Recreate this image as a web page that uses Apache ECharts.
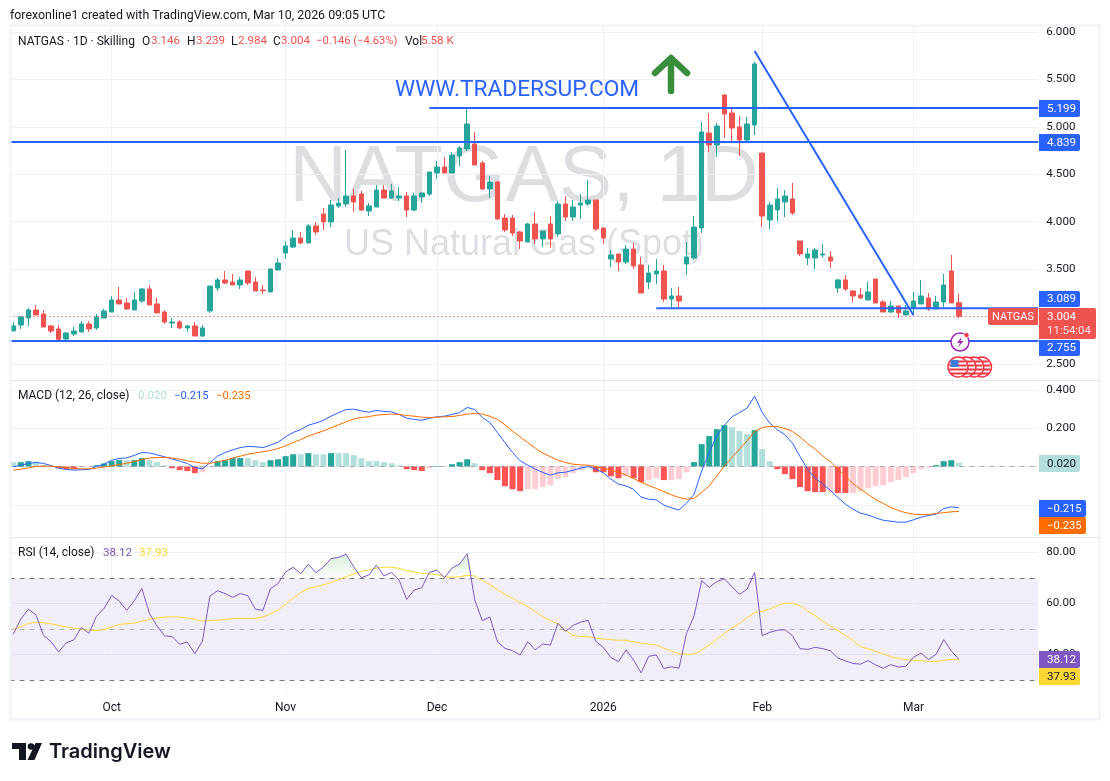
<!DOCTYPE html>
<html><head><meta charset="utf-8">
<style>html,body{margin:0;padding:0;background:#fff}#c{width:1110px;height:781px}</style>
<script src="https://cdn.jsdelivr.net/npm/echarts@6/dist/echarts.min.js"></script>
</head><body><div id="c"></div>
<script>
const dates=['09-12','09-15','09-16','09-17','09-18','09-19','09-22','09-23','09-24','09-25','09-26','09-29','09-30',
'10-01','10-02','10-03','10-06','10-07','10-08','10-09','10-10','10-13','10-14','10-15','10-16','10-17','10-20','10-21','10-22','10-23','10-24','10-27','10-28','10-29','10-30','10-31',
'11-03','11-04','11-05','11-06','11-07','11-10','11-11','11-12','11-13','11-14','11-17','11-18','11-19','11-20','11-21','11-24','11-25','11-26','11-27','11-28',
'12-01','12-02','12-03','12-04','12-05','12-08','12-09','12-10','12-11','12-12','12-15','12-16','12-17','12-18','12-19','12-22','12-23','12-24','12-26','12-29','12-30','12-31',
'01-02','01-05','01-06','01-07','01-08','01-09','01-12','01-13','01-14','01-15','01-16','01-19','01-20','01-21','01-22','01-23','01-26','01-27','01-28','01-29','01-30',
'02-02','02-03','02-04','02-05','02-06','02-09','02-10','02-11','02-12','02-13','02-16','02-17','02-18','02-19','02-20','02-23','02-24','02-25','02-26','02-27',
'03-02','03-03','03-04','03-05','03-06','03-09','03-10',
'f1','f2','f3','f4','f5','f6','f7','f8','f9','f10'];
const monthTicks={'10-01':'Oct','11-03':'Nov','12-01':'Dec','01-02':'2026','02-02':'Feb','03-02':'Mar'};
// [open, close, low, high]
const candles=[
[2.848,2.901,2.848,2.943],[2.911,2.995,2.869,3.006],[2.985,3.069,2.901,3.090],[3.069,3.017,3.017,3.122],[3.027,2.890,2.890,3.069],
[2.901,2.848,2.827,2.911],[2.869,2.760,2.760,2.911],[2.764,2.827,2.753,2.837],[2.816,2.848,2.795,2.890],[2.837,2.922,2.837,2.953],
[2.922,2.869,2.837,2.953],[2.880,2.995,2.859,3.027],[2.985,3.059,2.985,3.080],[3.048,3.175,3.048,3.217],[3.175,3.133,3.133,3.312],
[3.143,3.080,3.069,3.196],[3.069,3.175,3.069,3.259],[3.164,3.291,3.143,3.301],[3.291,3.122,3.122,3.333],[3.133,3.038,3.038,3.196],
[3.048,2.943,2.922,3.069],[2.932,2.943,2.880,2.985],[2.943,2.880,2.869,2.964],[2.880,2.901,2.837,2.911],[2.901,2.795,2.795,2.943],
[2.795,2.880,2.785,2.911],[3.059,3.322,3.038,3.322],[3.301,3.386,3.270,3.407],[3.386,3.354,3.343,3.480],[3.364,3.333,3.333,3.449],
[3.333,3.386,3.291,3.417],[3.480,3.354,3.333,3.480],[3.364,3.270,3.270,3.417],[3.280,3.273,3.238,3.333],[3.259,3.501,3.259,3.512],
[3.491,3.565,3.491,3.617],[3.670,3.744,3.607,3.797],[3.733,3.828,3.723,3.913],[3.828,3.776,3.765,3.892],[3.776,3.955,3.776,3.976],
[3.955,3.892,3.860,3.997],[4.081,3.997,3.913,4.145],[3.997,4.176,3.944,4.229],[4.166,4.197,4.145,4.250],[4.187,4.271,4.155,4.756],
[4.271,4.208,4.102,4.345],[4.292,4.123,4.113,4.324],[4.113,4.166,4.060,4.197],[4.155,4.334,4.155,4.387],[4.334,4.250,4.250,4.387],
[4.250,4.324,4.239,4.398],[4.250,4.271,4.218,4.366],[4.271,4.123,4.050,4.313],[4.123,4.271,4.113,4.303],[4.261,4.303,4.197,4.303],
[4.292,4.524,4.271,4.524],[4.514,4.577,4.450,4.640],[4.577,4.514,4.514,4.682],[4.514,4.703,4.514,4.735],[4.693,4.777,4.587,4.798],
[4.767,5.030,4.745,5.188],[4.819,4.598,4.598,4.946],[4.619,4.345,4.334,4.640],[4.345,4.419,4.250,4.482],[4.419,4.029,4.018,4.429],
[4.039,3.913,3.892,4.081],[4.039,3.881,3.849,4.071],[3.892,3.797,3.712,3.902],[3.786,3.976,3.786,3.986],[3.976,3.818,3.765,4.102],
[3.818,3.902,3.733,3.902],[3.976,3.818,3.723,4.060],[3.871,4.187,3.839,4.218],[4.187,4.050,4.008,4.271],[4.050,4.155,4.008,4.229],
[4.176,4.197,4.029,4.292],[4.187,4.229,4.166,4.440],[4.229,3.923,3.902,4.229],[3.934,3.828,3.765,3.934],[3.607,3.649,3.523,3.702],
[3.660,3.575,3.480,3.660],[3.575,3.712,3.554,3.755],[3.712,3.533,3.501,3.776],[3.544,3.248,3.248,3.628],[3.364,3.459,3.291,3.544],
[3.449,3.480,3.343,3.607],[3.480,3.185,3.154,3.544],[3.185,3.217,3.101,3.301],[3.217,3.164,3.101,3.312],[3.554,3.628,3.438,3.786],
[3.618,3.944,3.597,4.060],[3.934,4.946,3.881,5.051],[4.935,4.809,4.735,5.146],[4.809,5.009,4.682,5.041],[5.336,5.136,4.882,5.346],
[5.146,4.988,4.840,5.188],[4.999,4.861,4.693,5.114],[4.861,5.030,4.830,5.104],[5.020,5.663,4.914,5.684],[4.724,4.060,3.944,4.724],
[4.018,4.176,3.923,4.208],[4.124,4.240,4.008,4.356],[4.208,4.271,4.050,4.334],[4.240,4.092,4.071,4.408],[3.797,3.660,3.639,3.797],
[3.618,3.660,3.544,3.723],[3.618,3.702,3.502,3.723],[3.649,3.660,3.618,3.765],[3.628,3.586,3.512,3.691],[3.301,3.386,3.249,3.396],
[3.386,3.291,3.270,3.438],[3.270,3.217,3.154,3.270],[3.228,3.196,3.185,3.301],[3.175,3.259,3.175,3.365],[3.396,3.143,3.143,3.396],
[3.154,3.048,3.048,3.175],[3.048,3.112,3.038,3.164],[3.112,3.038,2.985,3.112],[3.017,3.059,3.017,3.122],[3.090,3.164,3.017,3.259],
[3.133,3.217,3.133,3.386],[3.196,3.080,3.059,3.249],[3.080,3.154,3.080,3.217],[3.154,3.333,3.101,3.449],[3.480,3.143,3.143,3.649],
[3.146,3.004,2.984,3.239]];
const macdLine=[-.002,.007,.016,.021,.016,.005,-.009,-.016,-.019,-.017,-.016,0,.012,.033,.042,.045,.058,.073,.071,.061,.051,.040,.028,.016,-.005,-.012,.019,.054,.073,.087,.099,.105,.103,.099,.112,.127,.155,.178,.193,.216,.227,.242,.263,.281,.298,.300,.291,.284,.293,.288,.286,.272,.253,.246,.242,.251,.260,.263,.272,.282,.309,.298,
.256,.230,.178,.125,.073,.030,.007,-.014,-.031,-.045,-.033,-.030,-.019,-.009,0,-.014,-.033,-.066,-.092,-.101,-.120,-.160,-.171,-.174,-.202,-.216,-.228,-.192,-.145,-.023,.073,.160,.216,.260,.282,.305,.368,.282,.227,.192,.166,.122,.052,-.014,-.061,-.092,-.124,-.162,-.197,-.223,-.244,-.254,-.268,-.281,-.286,-.291,-.291,-.279,-.265,-.256,-.249,-.220,-.211,-.215];
const signalLine=[-.019,-.014,-.007,0,.002,.002,-.002,-.007,-.010,-.012,-.012,-.009,-.003,.003,.010,.017,.026,.037,.044,.047,.047,.044,.038,.030,.023,.017,.017,.024,.033,.044,.054,.064,.071,.077,.084,.094,.108,.125,.141,.159,.173,.186,.202,.218,.234,.248,.256,.261,.268,.272,.274,.272,.267,.263,.258,.256,.258,.260,.261,.267,.274,.277,
.274,.263,.246,.218,.185,.155,.125,.096,.070,.051,.033,.021,.012,.009,.007,0,-.010,-.019,-.030,-.045,-.063,-.082,-.099,-.115,-.131,-.148,-.162,-.171,-.166,-.136,-.101,-.049,.003,.047,.091,.134,.183,.204,.209,.209,.199,.183,.155,.120,.091,.056,.026,-.014,-.052,-.089,-.119,-.146,-.173,-.193,-.214,-.230,-.242,-.249,-.251,-.251,-.246,-.241,-.237,-.235];
const histogram=[.023,.023,.028,.026,.007,.002,-.009,-.014,-.014,-.005,-.003,.007,.016,.028,.033,.033,.033,.044,.033,.023,.007,-.009,-.019,-.024,-.035,-.030,-.002,.028,.033,.044,.044,.044,.033,.023,.033,.038,.054,.064,.064,.070,.064,.064,.070,.070,.070,.059,.044,.028,.028,.023,.017,.007,-.014,-.019,-.024,-.009,.003,.002,.012,.023,.038,.017,-.019,-.035,-.071,-.103,-.119,-.129,-.119,-.119,-.108,-.098,-.066,-.056,-.035,-.019,-.005,-.030,-.030,-.051,-.061,-.051,-.061,-.082,-.071,-.061,-.071,-.071,-.066,-.030,.023,.117,.159,.195,.216,.206,.185,.169,.190,.091,.028,-.014,-.040,-.066,-.108,-.129,-.134,-.134,-.134,-.139,-.139,-.139,-.129,-.113,-.103,-.098,-.082,-.071,-.056,-.035,-.014,-.007,.007,.028,.033,.020];
const histStrong=[0,1,1,0,0,0,1,1,1,0,0,1,1,1,1,0,1,1,0,0,0,1,1,1,1,0,0,1,1,1,1,0,0,0,1,1,1,1,0,1,0,0,1,0,0,0,0,0,0,0,0,0,1,1,1,0,1,0,1,1,1,0,1,1,1,1,1,1,0,0,0,0,0,0,0,0,0,1,1,1,1,0,1,1,0,0,1,0,0,0,1,1,1,1,1,0,0,0,1,0,0,1,1,1,1,1,1,1,0,1,1,0,0,0,0,0,0,0,0,0,0,0,1,1,1,0];
const rsi=[48.0,53.9,57.8,55.5,47.5,45.0,41.0,44.6,45.7,50.6,48.3,55.0,58.1,63.1,61.0,57.3,61.1,65.9,56.1,51.2,47.3,47.0,44.0,44.9,40.3,45.2,62.9,65.0,63.9,62.4,63.9,63.1,57.8,57.3,65.8,67.8,72.4,74.2,71.7,75.4,72.1,74.3,77.6,78.1,79.3,74.4,70.1,71.2,75.0,70.8,72.2,69.2,61.6,65.3,66.2,72.2,73.1,70.1,73.9,75.5,79.5,61.4,
53.3,54.7,45.0,42.4,41.5,39.8,45.0,41.8,44.1,43.7,52.2,49.1,51.4,52.7,53.4,45.2,42.8,38.8,37.2,41.8,37.8,32.8,39.3,39.8,34.5,35.2,34.6,48.3,55.1,69.0,66.3,68.6,69.7,66.6,63.6,65.6,72.2,47.4,48.7,49.5,49.7,47.4,42.3,42.0,42.8,42.3,41.5,38.6,37.5,36.5,36.2,37.6,35.9,34.6,36.0,35.1,35.4,38.9,40.6,38.0,40.1,45.8,41.4,38.12];
const rsiMa=[49.9,50.9,52.2,52.6,52.5,52.0,51.4,50.8,50.3,50.0,49.6,49.4,49.7,50.8,51.8,52.1,52.3,53.1,53.8,54.3,54.7,54.8,54.7,54.3,53.8,53.1,53.4,53.5,53.7,54.1,54.2,54.1,54.2,54.7,56.0,57.4,59.7,62.0,64.3,65.9,66.5,67.3,68.2,69.3,70.5,71.6,72.6,73.1,73.9,74.2,74.2,73.8,72.9,72.4,71.8,71.6,71.3,70.5,70.3,70.5,71.0,70.8,
69.0,67.5,65.3,63.6,62.0,60.3,58.8,56.8,54.8,53.3,52.0,49.4,47.5,47.0,47.0,46.4,46.1,45.8,45.6,45.6,45.0,44.4,44.1,43.7,42.4,41.4,40.3,40.1,40.1,41.8,43.7,46.0,48.3,50.3,52.2,54.4,56.5,56.9,57.8,59.2,60.1,60.1,59.2,57.1,55.2,53.1,51.2,49.4,47.5,45.6,43.0,42.3,41.2,40.2,39.2,38.4,38.0,37.7,37.6,37.3,37.3,37.7,38.1,37.93];
const levelsFull=[4.839,2.755];
const levelsPartial=[['11-28',5.199],['01-13',3.089]];
const trend=[['01-30',5.80],['03-02',3.014]];
const lastPrice=3.004;

const FONT='Roboto, "Liberation Sans", sans-serif';
const UP='#26a69a',DN='#ef5350',BLUE='#2962ff',GRID='#f0f1f4';
const L=9.5,W=1028.8;
const grids=[{left:L,width:W,top:32,height:332},{left:L,width:W,top:390,height:153},{left:L,width:W,top:552.5,height:153},{left:L,width:W,top:26,height:666}];
const xa=i=>({type:'category',gridIndex:i,data:dates,show:false,boundaryGap:true,axisPointer:{show:false}});
const xAxes=[xa(0),xa(1),xa(2),{type:'category',gridIndex:3,data:dates,boundaryGap:true,
 axisLine:{show:false},axisTick:{show:false},splitLine:{show:false},
 axisLabel:{show:true,margin:10,color:'#131722',fontFamily:FONT,fontSize:12,hideOverlap:false,interval:(i,v)=>v in monthTicks,formatter:v=>monthTicks[v]||''}}];
const ya=(i,min,max,interval,dec,showFn,showMin)=>({type:'value',gridIndex:i,position:'right',min,max,interval,scale:false,
 axisLine:{show:false},axisTick:{show:false},
 splitLine:{show:true,showMinLine:showMin,lineStyle:{color:GRID,width:1}},
 axisLabel:{margin:8,padding:[3,0,0,0],color:'#131722',fontFamily:FONT,fontSize:11.6,formatter:v=>showFn(v)?v.toFixed(dec):''}});
const yAxes=[ya(0,2.5,6,.5,3,()=>true,true),ya(1,-.4,.4,.2,3,v=>v>.1,false),ya(2,20,80,20,2,v=>v>20,false),{type:'value',gridIndex:3,show:false,min:0,max:1,splitLine:{show:false}}];
const lineSym={symbol:['none','none'],silent:true,animation:false};
const blueLine={color:BLUE,width:2,type:'solid'};
const series=[
 {type:'line',xAxisIndex:3,yAxisIndex:3,data:[],silent:true,z:1,markLine:{...lineSym,z:1,label:{show:false},
   lineStyle:{color:GRID,width:1,type:'solid'},data:Object.keys(monthTicks).map(k=>({xAxis:k}))}},
 {type:'candlestick',name:'NATGAS',xAxisIndex:0,yAxisIndex:0,data:candles,barWidth:5,z:3,
   itemStyle:{color:UP,color0:DN,borderColor:UP,borderColor0:DN,borderWidth:1},
   markLine:{...lineSym,z:5,label:{show:false},lineStyle:blueLine,data:[
     ...levelsFull.map(v=>({yAxis:v})),
     [{coord:trend[0]},{coord:trend[1]}],
     {yAxis:lastPrice,lineStyle:{color:DN,width:1,type:[1,3]}}
   ]}},
 {type:'custom',xAxisIndex:0,yAxisIndex:0,z:5,silent:true,clip:false,data:levelsPartial,encode:{x:0,y:1},
   renderItem:(p,api)=>{const a=api.coord([api.value(0),api.value(1)]);const e=p.coordSys.x+p.coordSys.width;
     return {type:'line',shape:{x1:a[0],y1:a[1],x2:e,y2:a[1]},style:{stroke:BLUE,lineWidth:2}};}},
 {type:'bar',xAxisIndex:1,yAxisIndex:1,barWidth:6,silent:true,z:2,
   data:histogram.map((v,i)=>({value:v,itemStyle:{color:v>=0?(histStrong[i]?'#26a69a':'#b2dfdb'):(histStrong[i]?'#ff5252':'#ffcdd2')}})),
   markLine:{...lineSym,z:3,label:{show:false},lineStyle:{color:'rgba(120,123,134,.55)',width:1,type:[5,5]},data:[{yAxis:0}]}},
 {type:'line',xAxisIndex:1,yAxisIndex:1,data:macdLine,symbol:'none',silent:true,z:4,lineStyle:{color:BLUE,width:1}},
 {type:'line',xAxisIndex:1,yAxisIndex:1,data:signalLine,symbol:'none',silent:true,z:5,lineStyle:{color:'#ff6d00',width:1}},
 {type:'line',xAxisIndex:2,yAxisIndex:2,data:rsi.map(v=>Math.max(v,70)),symbol:'none',silent:true,z:2,lineStyle:{width:0},
   areaStyle:{origin:70,color:{type:'linear',x:0,y:0,x2:0,y2:1,colorStops:[{offset:0,color:'rgba(76,175,80,.32)'},{offset:1,color:'rgba(76,175,80,0)'}]}},
   markArea:{silent:true,itemStyle:{color:'rgba(126,87,194,.1)'},data:[[{yAxis:70},{yAxis:30}]]},
   markLine:{...lineSym,z:3,label:{show:false},lineStyle:{color:'#787b86',width:1,type:[5,5]},data:[{yAxis:70},{yAxis:30},{yAxis:50,lineStyle:{color:'rgba(120,123,134,.5)',width:1,type:[5,5]}}]}},
 {type:'line',xAxisIndex:2,yAxisIndex:2,data:rsiMa,symbol:'none',silent:true,z:4,lineStyle:{color:'#fdd835',width:1}},
 {type:'line',xAxisIndex:2,yAxisIndex:2,data:rsi,symbol:'none',silent:true,z:5,lineStyle:{color:'#7e57c2',width:1}}
];
const g=[];
const T=(t,x,y,color,size,opt)=>g.push({type:'text',x,y:y+1,z:100,silent:true,style:Object.assign({text:t,fill:color,font:`${size||12}px ${FONT}`,verticalAlign:'middle'},opt||{})});
const R=(x,y,w,h,fill,z,r)=>g.push({type:'rect',z:z===undefined?100:z,silent:true,shape:{x,y,width:w,height:h,r:r===undefined?0:r},style:{fill}});
// frame
[[10,25,1090,2],[10,719,1090,2],[10,25,2,696],[1099,25,2,696]].forEach(a=>R(a[0]-.5,a[1]-.5,a[2],a[3],'#f0f3fa',50));
R(10,380,1090,1,'#e4e6ec',50);R(10,537,1090,1,'#e4e6ec',50);
// watermark
g.push({type:'text',x:524,y:178.5,z:0,silent:true,style:{text:'NATGAS, 1D',fill:'rgba(120,123,134,.25)',font:'80px "Liberation Sans"',align:'center',verticalAlign:'middle'}});
g.push({type:'text',x:524,y:245,z:0,silent:true,style:{text:'US Natural Gas (Spot)',fill:'rgba(120,123,134,.25)',font:'36px "Liberation Sans"',align:'center',verticalAlign:'middle'}});
// header
T('forexonline1 created with TradingView.com, Mar 10, 2026 09:05 UTC',10,14.5,'#131722',12.4);
[['NATGAS · 1D · Skilling',18,'#131722',12],['O',142,'#131722',12],['3.146',151,DN,11.6],['H',187,'#131722',12],['3.239',196,DN,11.6],['L',231,'#131722',12],['2.984',238,DN,11.6],['C',273,'#131722',12],['3.004',281,DN,11.6],['−0.146 (−4.63%)',316,DN,11.2],['Vol',405,'#131722',12],['5.58 K',421,DN,11.6]]
 .forEach(a=>T(a[0],a[1],40.5,a[2],a[3]));
T('MACD (12, 26, close)',18,395,'#131722');T('0.020',138,395,'#b2dfdb',11.6);T('−0.215',174,395,BLUE,11.2);T('−0.235',216,395,'#ff6d00',11.2);
T('RSI (14, close)',18,552,'#131722');T('38.12',103,552,'#7e57c2',11.6);T('37.93',139,552,'#fdd835',11.6);
// annotation
T('WWW.TRADERSUP.COM',395,89,BLUE,22.7);
g.push({type:'polyline',z:100,silent:true,shape:{points:[[655,73],[671,58],[687,73]]},style:{stroke:'#388e3c',lineWidth:6.5,fill:null,lineCap:'round',lineJoin:'round'}});
g.push({type:'line',z:100,silent:true,shape:{x1:671,y1:60,x2:671,y2:91},style:{stroke:'#388e3c',lineWidth:6.5,lineCap:'round'}});
// price tags
const tags=[['5.199',100,117,BLUE,'#fff'],['4.839',134,151,BLUE,'#fff'],['3.089',291,307,BLUE,'#fff'],['2.755',340,356,BLUE,'#fff'],['0.020',455,472,'#b2dfdb','#131722'],['−0.215',500,517,BLUE,'#fff',47],['−0.235',517,534,'#ff6d00','#fff',47],['38.12',651,668,'#7e57c2','#fff'],['37.93',668,685,'#fdd835','#131722']];
tags.forEach(t=>{R(1039,t[1],t[5]||41,t[2]-t[1],t[3],90,[0,2,2,0]);T(t[0],1047,(t[1]+t[2])/2-.5,t[4],t[5]?11.2:11.6);});
R(1039,308,57,31,DN,90,[0,2,2,0]);T('3.004',1047,316,'#fff',11.6);T('11:54:04',1047,330,'#fff',11.4,{opacity:.85});
R(988,308,50,17,DN,90,[2,0,0,2]);T('NATGAS',992,316,'#fff',11);
// event icons
const flagX=[981.5,973.7,965.9,958];
flagX.forEach((cx,i)=>{
 g.push({type:'circle',z:91+i,silent:true,shape:{cx,cy:367,r:10},style:{fill:'#fff',stroke:'#f23645',lineWidth:1.5}});
 [[-6.5,7],[-2.5,8.6],[1.5,8.7],[5.5,7.5]].forEach(([dy,hw])=>g.push({type:'rect',z:91+i,z2:2,silent:true,shape:{x:cx-hw,y:367+dy,width:2*hw,height:2},style:{fill:'#f23645'}}));
 if(i===3)g.push({type:'rect',z:95,z2:3,silent:true,shape:{x:cx-7.5,y:360,width:8,height:7},style:{fill:'#3f7ad6'}});
});
g.push({type:'circle',z:96,silent:true,shape:{cx:960,cy:342,r:9},style:{fill:'#fff',stroke:'#9c27b0',lineWidth:1.5}});
g.push({type:'polygon',z:97,silent:true,shape:{points:[[961.5,337],[957,343],[960,343],[958,347.5],[963.5,341],[960.5,341]]},style:{fill:'#9c27b0'}});
g.push({type:'circle',z:98,silent:true,shape:{cx:966.5,cy:335,r:2.6},style:{fill:'#f23645',stroke:'#fff',lineWidth:.8}});
// logo
g.push({type:'polygon',z:100,silent:true,shape:{points:[[12,743],[26,743],[26,760],[19,760],[19,749],[12,749]]},style:{fill:'#131722'}});
g.push({type:'circle',z:100,silent:true,shape:{cx:31,cy:746.5,r:3.3},style:{fill:'#131722'}});
g.push({type:'polygon',z:100,silent:true,shape:{points:[[35.5,743],[42,743],[34.5,760],[27.5,760]]},style:{fill:'#131722'}});
g.push({type:'text',x:49,y:751.5,z:100,silent:true,style:{text:'TradingView',fill:'#131722',font:'600 20px Inter',verticalAlign:'middle'}});

const chart=echarts.init(document.getElementById('c'),null,{renderer:'canvas'});
chart.setOption({animation:false,backgroundColor:'#fff',tooltip:{show:false},legend:{show:false},grid:grids,xAxis:xAxes,yAxis:yAxes,series,graphic:{elements:g}});
</script></body></html>
